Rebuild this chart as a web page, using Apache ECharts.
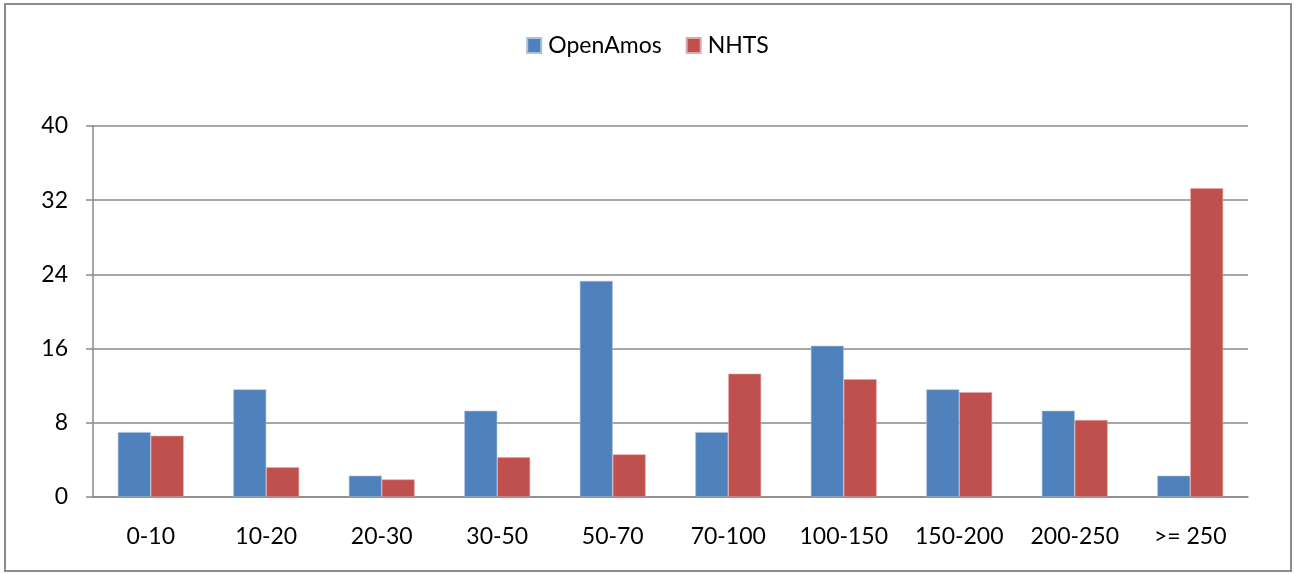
<!DOCTYPE html>
<html>
<head>
<meta charset="utf-8">
<script src="https://cdn.jsdelivr.net/npm/echarts@6/dist/echarts.min.js"></script>
<style>
  html, body { margin: 0; padding: 0; background: #fff; }
  #chart { width: 1295px; height: 573px; }
</style>
</head>
<body>
<div id="chart"></div>
<script>
// distance bands and share (%) per source
const categories = ['0-10', '10-20', '20-30', '30-50', '50-70', '70-100', '100-150', '150-200', '200-250', '>= 250'];
const openAmos = [7.0, 11.6, 2.3, 9.3, 23.3, 7.0, 16.3, 11.6, 9.3, 2.3];
const nhts = [6.6, 3.2, 1.9, 4.3, 4.6, 13.3, 12.7, 11.3, 8.3, 33.3];
const yTicks = [0, 8, 16, 24, 32, 40];

const FONT = 'Lato, "Open Sans", sans-serif';
const GRID_GRAY = '#8a8a8a';

const chart = echarts.init(document.getElementById('chart'));

chart.setOption({
  backgroundColor: '#fff',
  animation: false,
  graphic: [{
    type: 'rect',
    shape: { x: 5, y: 4, width: 1286, height: 567 },
    style: { fill: 'none', stroke: '#8c8c8c', lineWidth: 2 }
  }],
  legend: {
    data: ['OpenAmos', 'NHTS'],
    top: 29,
    left: 'center',
    itemWidth: 14,
    itemHeight: 15,
    itemGap: 24,
    icon: 'rect',
    textStyle: { fontFamily: FONT, fontSize: 23, color: '#000', padding: [0, 0, 0, 2] }
  },
  grid: { left: 93, right: 47, top: 126, bottom: 76 },
  xAxis: {
    type: 'category',
    data: categories,
    axisLine: { lineStyle: { color: GRID_GRAY, width: 1.5 } },
    axisTick: { length: 7, lineStyle: { color: GRID_GRAY, width: 1.5 } },
    axisLabel: { fontFamily: FONT, fontSize: 23, color: '#000', margin: 28 }
  },
  yAxis: {
    type: 'value',
    min: yTicks[0],
    max: yTicks[yTicks.length - 1],
    interval: yTicks[1] - yTicks[0],
    axisLine: { show: true, lineStyle: { color: GRID_GRAY, width: 1.5 } },
    axisTick: { show: true, length: 7, lineStyle: { color: GRID_GRAY, width: 1.5 } },
    axisLabel: { fontFamily: FONT, fontSize: 23, color: '#000', margin: 25 },
    splitLine: { lineStyle: { color: GRID_GRAY, width: 1.5 } }
  },
  series: [
    {
      name: 'OpenAmos',
      type: 'bar',
      data: openAmos,
      barGap: '0%',
      barCategoryGap: '43%',
      itemStyle: { color: '#4F81BD', borderColor: '#a9c0de', borderWidth: 0.6 }
    },
    {
      name: 'NHTS',
      type: 'bar',
      data: nhts,
      itemStyle: { color: '#C0504D', borderColor: '#e0a8a6', borderWidth: 0.6 }
    }
  ]
});
</script>
</body>
</html>
